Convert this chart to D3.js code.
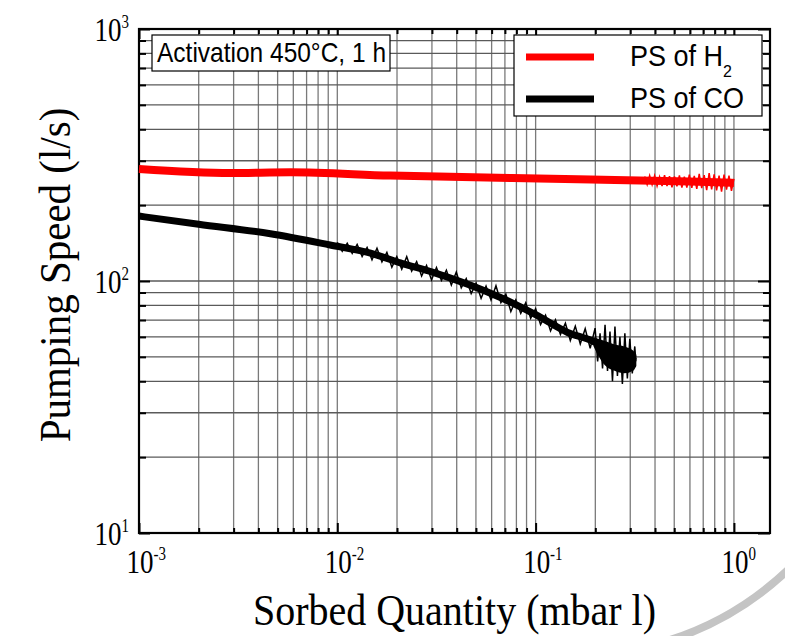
<!DOCTYPE html>
<html>
<head>
<meta charset="utf-8">
<script src="https://cdn.jsdelivr.net/npm/d3@7"></script>
<style>
  body { margin: 0; background: #fff; }
  svg { display: block; }
</style>
</head>
<body>
<svg id="chart" width="785" height="636"></svg>
<script>
// Pumping speed (l/s) against sorbed quantity (mbar l)
const h2Quantity = [0.001, 0.0029, 0.0058, 0.0185, 0.19, 0.6, 1.0];
const h2Speed    = [278, 268, 270, 262, 253, 248, 245];

// scatter of the H2 trace towards the end of the run
const h2ScatterQuantity = [0.3548, 0.3652, 0.3758, 0.3868, 0.3981, 0.4097, 0.4217, 0.4340, 0.4467, 0.4597,
  0.4732, 0.4870, 0.5012, 0.5158, 0.5309, 0.5464, 0.5623, 0.5788, 0.5957, 0.6131,
  0.6310, 0.6494, 0.6683, 0.6879, 0.7079, 0.7286, 0.7499, 0.7718, 0.7943, 0.8175,
  0.8414, 0.8660, 0.8913, 0.9173, 0.9441, 0.9716, 1.0];
const h2ScatterSpeed = [259.7, 241.2, 261.8, 240.9, 261.5, 238.4, 258.8, 238.2, 263.2, 237.9,
  260.5, 235.5, 260.2, 237.3, 262.2, 234.9, 259.6, 234.7, 264.1, 234.4,
  261.4, 231.9, 265.9, 233.8, 263.2, 229.3, 267.7, 231.1, 265.0, 228.8,
  262.2, 226.4, 264.3, 230.3, 261.7, 228.0, 254.2];

const coQuantity = [0.001, 0.002, 0.0046, 0.0092, 0.0147, 0.0208, 0.0307, 0.0665, 0.1, 0.145, 0.196, 0.24, 0.29, 0.32];
const coSpeed    = [181, 168, 154, 139, 129, 118, 108, 86, 73.5, 62.5, 57.5, 52, 49, 48];

// scatter of the CO trace
const coScatterQuantity = [0.01, 0.01059, 0.01122, 0.01189, 0.01259, 0.01334, 0.01413, 0.01496, 0.01585, 0.01679,
  0.01778, 0.01884, 0.01995, 0.02113, 0.02239, 0.02371, 0.02512, 0.02661, 0.02818, 0.02985,
  0.03162, 0.0335, 0.03548, 0.03758, 0.03981, 0.04217, 0.04467, 0.04732, 0.05012, 0.05309,
  0.05623, 0.05957, 0.0631, 0.06683, 0.07079, 0.07499, 0.07943, 0.08414, 0.08913, 0.09441,
  0.1, 0.1059, 0.1122, 0.1189, 0.1259, 0.1334, 0.1413, 0.1496, 0.1585, 0.1679,
  0.1778, 0.1884, 0.1995, 0.2054, 0.2113, 0.2175, 0.2239, 0.2304, 0.2371, 0.2441,
  0.2512, 0.2585, 0.2661, 0.2738, 0.2818, 0.2901, 0.2985, 0.3072, 0.3162, 0.32];
const coScatterSpeed = [142.3, 131.1, 141.0, 128.7, 139.7, 125.2, 135.9, 121.5, 134.9, 119.1,
  129.8, 113.5, 124.9, 111.3, 124.9, 109.4, 119.4, 104.6, 115.3, 101.0,
  113.1, 100.5, 110.3, 96.3, 108.6, 93.9, 102.1, 89.2, 97.9, 85.4,
  95.4, 84.1, 95.7, 82.0, 88.7, 75.6, 84.1, 74.4, 81.9, 71.1,
  77.6, 67.2, 73.2, 63.4, 70.2, 61.4, 68.0, 58.1, 66.2, 56.3,
  64.7, 54.0, 65, 48, 62, 45, 67, 44, 63, 40,
  66, 42, 60, 39, 62, 41, 59, 43, 55, 48];

// dense core of the CO trace at the end of the run
const coCoreQuantity = [0.196, 0.22, 0.25, 0.28, 0.31, 0.322];
const coCoreUpper    = [60, 58, 56, 55, 53, 51];
const coCoreLower    = [55, 47, 44, 43, 44, 46];

const xTickExponents = [-3, -2, -1, 0];
const yTickExponents = [1, 2, 3];
const seriesNames = ["PS of H", "PS of CO"];
const seriesColors = ["#ff0000", "#000000"];
const noteText = "Activation 450°C, 1 h";
const xTitle = "Sorbed Quantity (mbar l)";
const yTitle = "Pumping Speed (l/s)";

const svg = d3.select("#chart");
const plotLeft = 139, plotRight = 770, plotTop = 29, plotBottom = 533;

const x = d3.scaleLog().domain([1e-3, 1.52]).range([plotLeft, plotRight]);
const y = d3.scaleLog().domain([10, 1000]).range([plotBottom, plotTop]);

const serif = "'Liberation Serif', 'Times New Roman', serif";
const sans = "'Liberation Sans', Arial, sans-serif";

const xTicks = x.ticks();
const yTicks = y.ticks();
const isMajor = v => Math.abs(Math.log10(v) - Math.round(Math.log10(v))) < 1e-9;

// grid
const grid = svg.append("g");
grid.selectAll("line.vx").data(xTicks.filter(v => x(v) > plotLeft + 1 && x(v) < plotRight - 1)).join("line")
  .attr("x1", d => x(d)).attr("x2", d => x(d)).attr("y1", plotTop).attr("y2", plotBottom)
  .attr("stroke", "#7a7a7a").attr("stroke-width", 1.3);
grid.selectAll("line.hy").data(yTicks.filter(v => y(v) > plotTop + 1 && y(v) < plotBottom - 1)).join("line")
  .attr("x1", plotLeft).attr("x2", plotRight).attr("y1", d => y(d)).attr("y2", d => y(d))
  .attr("stroke", "#5a5a5a").attr("stroke-width", 1.3);

// inward ticks on all four sides
function tickAxis(axisFn, scale, values, size, transform) {
  const g = svg.append("g").attr("transform", transform)
    .call(axisFn(scale).tickValues(values).tickSize(-size).tickFormat(""));
  g.select(".domain").remove();
  g.selectAll(".tick line").attr("stroke", "#000").attr("stroke-width", 2);
}
const xMinor = xTicks.filter(v => !isMajor(v)), xMajor = xTicks.filter(isMajor);
const yMinor = yTicks.filter(v => !isMajor(v)), yMajor = yTicks.filter(isMajor);
tickAxis(d3.axisBottom, x, xMinor, 5, `translate(0,${plotBottom})`);
tickAxis(d3.axisBottom, x, xMajor, 10, `translate(0,${plotBottom})`);
tickAxis(d3.axisTop, x, xMinor, 5, `translate(0,${plotTop})`);
tickAxis(d3.axisTop, x, xMajor, 10, `translate(0,${plotTop})`);
tickAxis(d3.axisLeft, y, yMinor, 7, `translate(${plotLeft},0)`);
tickAxis(d3.axisLeft, y, yMajor, 11, `translate(${plotLeft},0)`);
tickAxis(d3.axisRight, y, yMinor, 7, `translate(${plotRight},0)`);
tickAxis(d3.axisRight, y, yMajor, 12, `translate(${plotRight},0)`);

// frame
svg.append("rect").attr("x", plotLeft).attr("y", plotTop)
  .attr("width", plotRight - plotLeft).attr("height", plotBottom - plotTop)
  .attr("fill", "none").attr("stroke", "#000").attr("stroke-width", 2.2);

// data
const line = d3.line().x(d => x(d[0])).y(d => y(d[1])).curve(d3.curveMonotoneX);
const jag = d3.line().x(d => x(d[0])).y(d => y(d[1]));
const band = d3.area().x(d => x(d[0])).y0(d => y(d[2])).y1(d => y(d[1])).curve(d3.curveMonotoneX);
const plot = svg.append("g");

plot.append("path").datum(d3.zip(h2Quantity, h2Speed)).attr("d", line)
  .attr("fill", "none").attr("stroke", seriesColors[0]).attr("stroke-width", 8);
plot.append("path").datum(d3.zip(h2ScatterQuantity, h2ScatterSpeed)).attr("d", jag)
  .attr("fill", "none").attr("stroke", seriesColors[0]).attr("stroke-width", 1.5).attr("stroke-linejoin", "miter");

plot.append("path").datum(d3.zip(coQuantity, coSpeed)).attr("d", line)
  .attr("fill", "none").attr("stroke", seriesColors[1]).attr("stroke-width", 7);
plot.append("path").datum(d3.zip(coCoreQuantity, coCoreUpper, coCoreLower)).attr("d", band)
  .attr("fill", seriesColors[1]);
plot.append("path").datum(d3.zip(coScatterQuantity, coScatterSpeed)).attr("d", jag)
  .attr("fill", "none").attr("stroke", seriesColors[1]).attr("stroke-width", 1.5).attr("stroke-linejoin", "miter");

// tick labels (10 with superscript exponent)
function powerLabel(px, py, exp, anchorEnd) {
  const g = svg.append("g").attr("transform", `translate(${px},${py}) scale(1,1.28)`);
  const t = g.append("text").attr("font-family", serif).attr("font-size", 27).attr("fill", "#000")
    .attr("text-anchor", anchorEnd ? "end" : "start").attr("x", anchorEnd ? 0 : -13.5);
  t.append("tspan").text("10");
  t.append("tspan").attr("font-size", 15).attr("dy", -10).text(exp);
}
xTickExponents.forEach(e => powerLabel(x(Math.pow(10, e)) + 1, 573, String(e), false));
yTickExponents.forEach(e => powerLabel(129, y(Math.pow(10, e)) + 11.5, String(e), true));

// axis titles
svg.append("text").attr("transform", `translate(${(plotLeft + plotRight) / 2},625) scale(1,1.13)`)
  .attr("text-anchor", "middle").attr("font-family", serif).attr("font-size", 40)
  .attr("fill", "#000").text(xTitle);
svg.append("text").attr("transform", `translate(70,275) rotate(-90) scale(1,1.1)`)
  .attr("text-anchor", "middle").attr("font-family", serif).attr("font-size", 41)
  .attr("fill", "#000").text(yTitle);

// annotation box
svg.append("rect").attr("x", 152).attr("y", 35).attr("width", 238).attr("height", 36)
  .attr("fill", "#fff").attr("stroke", "#000").attr("stroke-width", 1.2);
svg.append("text").attr("transform", "translate(157,61.5) scale(1,1.14)")
  .attr("font-family", sans).attr("font-size", 24.5).attr("fill", "#000").text(noteText);

// legend
const legend = svg.append("g");
legend.append("rect").attr("x", 514).attr("y", 35).attr("width", 248).attr("height", 81)
  .attr("fill", "#fff").attr("stroke", "#000").attr("stroke-width", 1.2);
const rowY = [57, 99];
seriesNames.forEach((name, i) => {
  legend.append("line").attr("x1", 526).attr("x2", 594).attr("y1", rowY[i]).attr("y2", rowY[i])
    .attr("stroke", seriesColors[i]).attr("stroke-width", 7);
  const t = legend.append("text").attr("transform", `translate(630,${rowY[i] + 9}) scale(1,1.06)`)
    .attr("font-family", sans).attr("font-size", 27).attr("fill", "#000");
  t.append("tspan").text(name);
  if (i === 0) t.append("tspan").attr("font-size", 16).attr("dy", 10).text("2");
});

// light grey arc in the lower right corner
svg.append("path").attr("d", "M 670 640 Q 739 618 792 566")
  .attr("fill", "none").attr("stroke", "#c4c4c4").attr("stroke-width", 8);
</script>
</body>
</html>
